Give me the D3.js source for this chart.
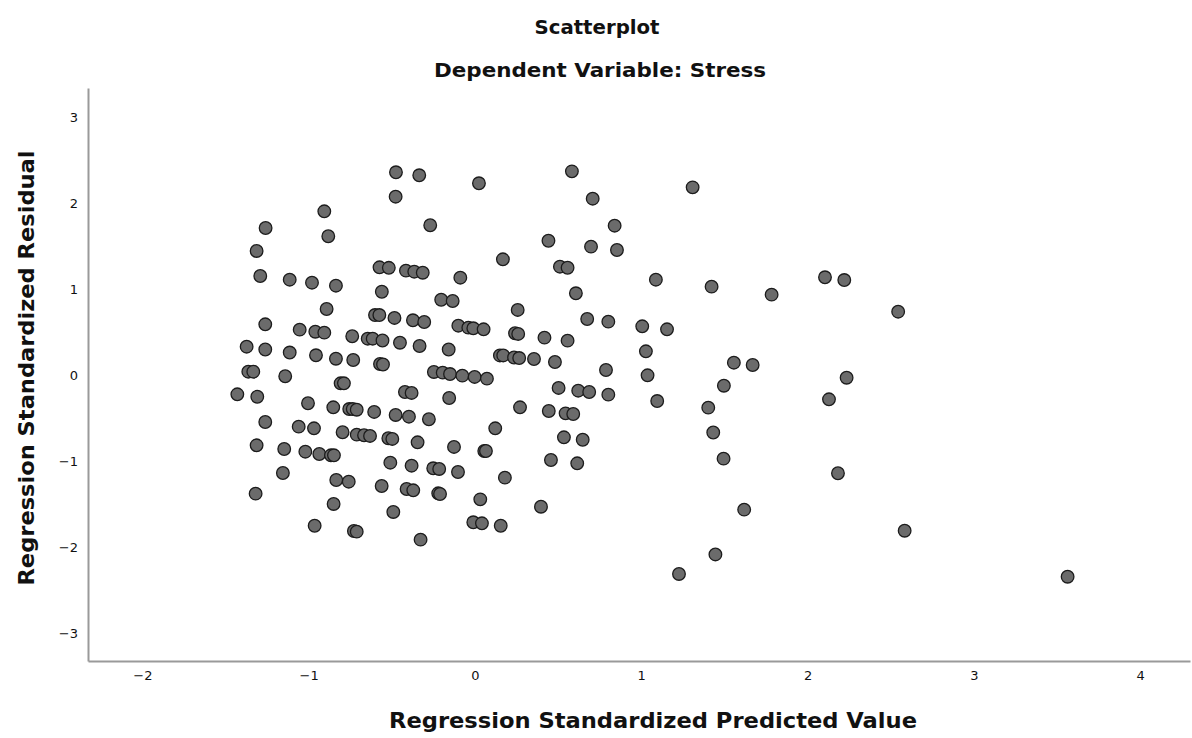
<!DOCTYPE html>
<html>
<head>
<meta charset="utf-8">
<script src="https://cdn.jsdelivr.net/npm/d3@7"></script>
<style>
  body { margin: 0; background: #fff; }
  svg { display: block; }
</style>
</head>
<body>
<div id="chart"></div>
<script>
// predicted values (x) and residuals (y)
let predicted = [
  -0.906,-1.259,-0.882,-1.313,-1.291,-1.114,-0.980,-0.836,-0.574,-0.518,
  -0.560,-0.892,-0.601,-0.575,-0.484,-1.261,-1.054,-0.960,-0.906,-0.738,
  -0.645,-0.615,-0.556,-1.373,-1.261,-1.114,-0.956,-0.836,-0.732,-0.475,
  -0.477,-0.571,-0.553,-1.363,-1.333,-1.141,-0.808,-0.788,-1.429,-1.309,
  -1.004,-0.852,-0.756,-0.735,-0.711,-0.606,-1.261,-1.060,-0.968,-0.796,
  -0.711,-0.667,-0.631,-1.313,-1.147,-1.020,-0.936,-0.866,-0.848,-1.155,
  -0.834,-0.759,-0.561,-1.319,-0.850,-0.964,-0.728,-0.711,-0.335,0.024,
  -0.269,0.442,0.168,-0.415,-0.365,-0.314,-0.088,-0.203,-0.134,0.257,
  -0.373,-0.305,-0.100,-0.040,-0.010,0.052,0.241,0.260,0.418,-0.451,
  -0.333,-0.158,0.150,0.170,0.235,0.266,0.355,-0.247,-0.194,-0.150,
  -0.076,-0.002,0.072,-0.421,-0.381,-0.155,0.271,0.444,-0.477,-0.397,
  -0.277,0.122,-0.521,-0.497,-0.345,-0.126,0.056,0.066,0.457,-0.509,
  -0.381,-0.251,-0.215,-0.102,0.180,-0.411,-0.371,-0.221,-0.210,0.032,
  0.397,-0.491,-0.010,0.042,0.155,-0.327,0.583,1.309,0.708,0.840,
  0.698,0.854,0.511,0.557,1.088,1.423,0.607,0.675,0.802,1.006,
  1.155,0.557,1.028,0.481,0.788,1.038,0.503,0.621,0.687,0.802,
  1.096,1.403,0.545,0.591,1.433,0.535,0.648,0.615,1.446,2.105,
  2.221,1.784,2.545,1.557,1.670,1.497,2.235,2.129,1.495,2.183,
  1.619,2.584,1.227,3.564
];
let residual = [
  1.909,1.715,1.619,1.448,1.157,1.114,1.079,1.044,1.258,1.252,
  0.974,0.773,0.703,0.703,0.669,0.595,0.533,0.509,0.498,0.456,
  0.428,0.428,0.407,0.335,0.302,0.267,0.235,0.195,0.180,2.363,
  2.079,0.134,0.128,0.044,0.044,-0.009,-0.091,-0.091,-0.219,-0.247,
  -0.323,-0.370,-0.390,-0.390,-0.398,-0.424,-0.541,-0.595,-0.614,-0.660,
  -0.688,-0.695,-0.703,-0.812,-0.855,-0.886,-0.913,-0.928,-0.928,-1.134,
  -1.215,-1.235,-1.285,-1.374,-1.494,-1.747,-1.808,-1.816,2.328,2.235,
  1.747,1.567,1.351,1.219,1.207,1.195,1.137,0.881,0.866,0.762,
  0.642,0.622,0.579,0.556,0.549,0.537,0.491,0.483,0.440,0.381,
  0.343,0.302,0.233,0.233,0.209,0.203,0.192,0.041,0.033,0.017,
  -0.002,-0.017,-0.037,-0.192,-0.203,-0.262,-0.370,-0.413,-0.459,-0.479,
  -0.509,-0.614,-0.730,-0.738,-0.777,-0.831,-0.878,-0.878,-0.983,-1.014,
  -1.049,-1.079,-1.087,-1.122,-1.188,-1.320,-1.335,-1.370,-1.378,-1.440,
  -1.526,-1.587,-1.707,-1.719,-1.747,-1.909,2.374,2.188,2.056,1.742,
  1.498,1.459,1.265,1.253,1.114,1.033,0.956,0.657,0.626,0.572,
  0.537,0.405,0.281,0.157,0.064,0.002,-0.145,-0.177,-0.192,-0.223,
  -0.297,-0.374,-0.440,-0.448,-0.663,-0.719,-0.747,-1.021,-2.081,1.142,
  1.110,0.940,0.742,0.149,0.122,-0.119,-0.026,-0.277,-0.967,-1.137,
  -1.560,-1.805,-2.308,-2.340
];
let xTicks = [-2, -1, 0, 1, 2, 3, 4];
let yTicks = [-3, -2, -1, 0, 1, 2, 3];

let w = 1192, h = 738;
let plot = {left: 88, right: 1190, top: 88, bottom: 661};
let font = "'DejaVu Sans', 'Open Sans', sans-serif";

let svg = d3.select('#chart').append('svg').attr('width', w).attr('height', h);

let xScale = d3.scaleLinear().domain([-2.327, 4.30]).range([plot.left, plot.right]);
let yScale = d3.scaleLinear().domain([-3.32, 3.343]).range([plot.bottom, plot.top]);

//坐标轴
let xaxis = d3.axisBottom(xScale).tickValues(xTicks).tickSize(0).tickPadding(10).tickFormat(d3.format('d'));
let yaxis = d3.axisLeft(yScale).tickValues(yTicks).tickSize(0).tickPadding(10).tickFormat(d3.format('d'));

let gx = svg.append('g').attr('transform', 'translate(0,' + plot.bottom + ')').call(xaxis);
let gy = svg.append('g').attr('transform', 'translate(' + plot.left + ',0)').call(yaxis);

[gx, gy].forEach(g => {
  g.select('.domain').attr('stroke', '#9a9a9a').attr('stroke-width', 2);
  g.selectAll('text').attr('fill', '#111').style('font-family', font).style('font-size', '13px');
});

//散点
let pts = predicted.map((d, i) => ({x: d, y: residual[i]}));
svg.append('g').selectAll('circle').data(pts).enter().append('circle')
  .attr('cx', d => xScale(d.x))
  .attr('cy', d => yScale(d.y))
  .attr('r', 6.3)
  .attr('fill', '#6b6b6b')
  .attr('stroke', '#1c1c1c')
  .attr('stroke-width', 1.3);

//标题
function label(x, y, size, len, txt, rot) {
  let t = svg.append('text')
    .attr('transform', 'translate(' + x + ',' + y + ')' + (rot ? ' rotate(-90)' : ''))
    .attr('text-anchor', 'middle')
    .attr('textLength', len).attr('lengthAdjust', 'spacingAndGlyphs')
    .style('font-family', font).style('font-weight', 'bold').style('font-size', size + 'px')
    .attr('fill', '#111').text(txt);
  return t;
}
label(597, 34, 19, 125, 'Scatterplot');
label(600, 77, 19, 332, 'Dependent Variable: Stress');
label(653, 728, 21, 528, 'Regression Standardized Predicted Value');
label(34, 368, 21, 435, 'Regression Standardized Residual', true);
</script>
</body>
</html>
